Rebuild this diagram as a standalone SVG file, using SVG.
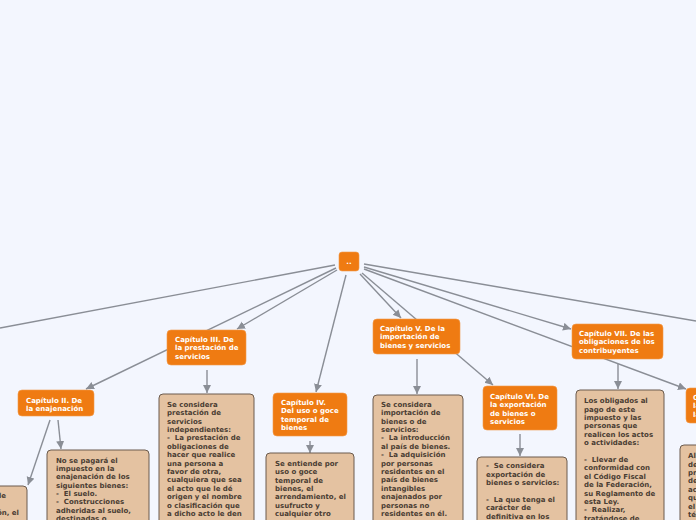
<svg xmlns="http://www.w3.org/2000/svg" width="696" height="520" viewBox="0 0 696 520">
<defs>
<style>
.bg{fill:#f3f6fe}
.on{fill:#ef7b12;stroke:#f29a4c;stroke-width:0.6}
.ot{fill:#ffffff;font-family:"DejaVu Sans",Verdana,sans-serif;font-weight:bold;font-size:7px}
.tb{fill:#e4c2a1;stroke:#6b5b4e;stroke-width:1}
.tt{fill:#4a3d33;font-family:"DejaVu Sans",Verdana,sans-serif;font-weight:bold;font-size:7px}
.c{fill:none;stroke:#8a8e96;stroke-width:1.4}
.ca{fill:none;stroke:#8a8e96;stroke-width:1.4;marker-end:url(#ah)}
</style>
<marker id="ah" markerUnits="userSpaceOnUse" markerWidth="10" markerHeight="10" refX="8" refY="4" orient="auto">
<path d="M0,0 L8,4 L0,8 z" fill="#8a8e96"/>
</marker>
</defs>
<rect class="bg" x="0" y="0" width="696" height="520"/>

<g id="connectors">
<line class="c" x1="335" y1="265" x2="0" y2="328"/>
<line class="ca" x1="336" y1="268" x2="86" y2="389"/>
<line class="ca" x1="337" y1="270" x2="237" y2="329"/>
<line class="ca" x1="346" y1="275" x2="316" y2="392"/>
<line class="ca" x1="360" y1="274" x2="401" y2="318"/>
<line class="ca" x1="362" y1="273" x2="493" y2="385"/>
<line class="ca" x1="364" y1="267" x2="571" y2="329"/>
<line class="ca" x1="364" y1="269" x2="686" y2="389"/>
<line class="c" x1="364" y1="264" x2="696" y2="321"/>
<line class="ca" x1="50" y1="420" x2="28" y2="485"/>
<line class="ca" x1="58" y1="420" x2="61" y2="449"/>
<line class="ca" x1="207" y1="370" x2="207" y2="393"/>
<line class="ca" x1="310" y1="441" x2="310" y2="453"/>
<line class="ca" x1="417" y1="359" x2="417" y2="394"/>
<line class="ca" x1="520" y1="434" x2="520" y2="456"/>
<line class="ca" x1="618" y1="364" x2="618" y2="389"/>
</g>

<g id="root">
<rect class="on" x="339" y="252" width="20" height="19" rx="3"/>
<text class="ot" x="349" y="264" text-anchor="middle">..</text>
</g>

<g id="cap2">
<rect class="on" x="18" y="390" width="76" height="26" rx="4"/>
<text class="ot"><tspan x="26" y="402.5">Capítulo II. De</tspan><tspan x="26" y="411">la enajenación</tspan></text>
</g>

<g id="cap3">
<rect class="on" x="167" y="330" width="79" height="35" rx="4"/>
<text class="ot"><tspan x="175" y="341.5">Capítulo III. De</tspan><tspan x="175" y="350">la prestación de</tspan><tspan x="175" y="358.5">servicios</tspan></text>
</g>

<g id="cap4">
<rect class="on" x="273" y="393" width="74" height="43" rx="4"/>
<text class="ot"><tspan x="281" y="404.5">Capítulo IV.</tspan><tspan x="281" y="413">Del uso o goce</tspan><tspan x="281" y="421.5">temporal de</tspan><tspan x="281" y="430">bienes</tspan></text>
</g>

<g id="cap5">
<rect class="on" x="373" y="319" width="87" height="35" rx="4"/>
<text class="ot"><tspan x="380" y="330.5">Capítulo V. De la</tspan><tspan x="380" y="339">importación de</tspan><tspan x="380" y="347.5">bienes y servicios</tspan></text>
</g>

<g id="cap6">
<rect class="on" x="483" y="386" width="74" height="44" rx="4"/>
<text class="ot"><tspan x="490" y="398.5">Capítulo VI. De</tspan><tspan x="490" y="407">la exportación</tspan><tspan x="490" y="415.5">de bienes o</tspan><tspan x="490" y="424">servicios</tspan></text>
</g>

<g id="cap7">
<rect class="on" x="572" y="324" width="91" height="35" rx="4"/>
<text class="ot"><tspan x="579" y="335.5">Capítulo VII. De las</tspan><tspan x="579" y="344">obligaciones de los</tspan><tspan x="579" y="352.5">contribuyentes</tspan></text>
</g>

<g id="cap8">
<rect class="on" x="686" y="388" width="80" height="35" rx="4"/>
<text class="ot"><tspan x="693" y="399.5">Capítulo VIII. De</tspan><tspan x="693" y="408">las facultades de</tspan><tspan x="693" y="416.5">las autoridades</tspan></text>
</g>

<g id="txt-left">
<rect class="tb" x="-70" y="486" width="97" height="60" rx="4"/>
<text class="tt" text-anchor="end"><tspan x="6" y="497.5">bienes de</tspan><tspan x="-4" y="506">por</tspan><tspan x="19" y="514.5">enajenación, el</tspan></text>
</g>

<g id="txt-cap2">
<rect class="tb" x="47" y="450" width="102" height="90" rx="4"/>
<text class="tt"><tspan x="56" y="462.5">No se pagará el</tspan><tspan x="56" y="470.9">impuesto en la</tspan><tspan x="56" y="479.2">enajenación de los</tspan><tspan x="56" y="487.6">siguientes bienes:</tspan><tspan x="56" y="495.9">-&#160; El suelo.</tspan><tspan x="56" y="504.3">-&#160; Construcciones</tspan><tspan x="56" y="512.6">adheridas al suelo,</tspan><tspan x="56" y="521">destinadas o</tspan></text>
</g>

<g id="txt-cap3">
<rect class="tb" x="159" y="394" width="95" height="150" rx="4"/>
<text class="tt"><tspan x="167" y="406.8">Se considera</tspan><tspan x="167" y="415.2">prestación de</tspan><tspan x="167" y="423.6">servicios</tspan><tspan x="167" y="432">independientes:</tspan><tspan x="167" y="440.4">-&#160; La prestación de</tspan><tspan x="167" y="448.8">obligaciones de</tspan><tspan x="167" y="457.2">hacer que realice</tspan><tspan x="167" y="465.6">una persona a</tspan><tspan x="167" y="474">favor de otra,</tspan><tspan x="167" y="482.4">cualquiera que sea</tspan><tspan x="167" y="490.8">el acto que le dé</tspan><tspan x="167" y="499.2">origen y el nombre</tspan><tspan x="167" y="507.6">o clasificación que</tspan><tspan x="167" y="516">a dicho acto le den</tspan></text>
</g>

<g id="txt-cap4">
<rect class="tb" x="266" y="453" width="88" height="90" rx="4"/>
<text class="tt"><tspan x="275" y="465.8">Se entiende por</tspan><tspan x="275" y="474.2">uso o goce</tspan><tspan x="275" y="482.6">temporal de</tspan><tspan x="275" y="491">bienes, el</tspan><tspan x="275" y="499.4">arrendamiento, el</tspan><tspan x="275" y="507.8">usufructo y</tspan><tspan x="275" y="516.2">cualquier otro</tspan></text>
</g>

<g id="txt-cap5">
<rect class="tb" x="373" y="395" width="90" height="150" rx="4"/>
<text class="tt"><tspan x="381" y="406.8">Se considera</tspan><tspan x="381" y="415.2">importación de</tspan><tspan x="381" y="423.6">bienes o de</tspan><tspan x="381" y="432">servicios:</tspan><tspan x="381" y="440.4">-&#160; La introducción</tspan><tspan x="381" y="448.8">al país de bienes.</tspan><tspan x="381" y="457.2">-&#160; La adquisición</tspan><tspan x="381" y="465.6">por personas</tspan><tspan x="381" y="474">residentes en el</tspan><tspan x="381" y="482.4">país de bienes</tspan><tspan x="381" y="490.8">intangibles</tspan><tspan x="381" y="499.2">enajenados por</tspan><tspan x="381" y="507.6">personas no</tspan><tspan x="381" y="516">residentes en él.</tspan></text>
</g>

<g id="txt-cap6">
<rect class="tb" x="477" y="457" width="90" height="90" rx="4"/>
<text class="tt"><tspan x="486" y="468.2">-&#160; Se considera</tspan><tspan x="486" y="476.6">exportación de</tspan><tspan x="486" y="485">bienes o servicios:</tspan><tspan x="486" y="501.8">-&#160; La que tenga el</tspan><tspan x="486" y="510.2">carácter de</tspan><tspan x="486" y="518.6">definitiva en los</tspan></text>
</g>

<g id="txt-cap7">
<rect class="tb" x="576" y="390" width="88" height="150" rx="4"/>
<text class="tt"><tspan x="584" y="403.2">Los obligados al</tspan><tspan x="584" y="411.6">pago de este</tspan><tspan x="584" y="420">impuesto y las</tspan><tspan x="584" y="428.4">personas que</tspan><tspan x="584" y="436.8">realicen los actos</tspan><tspan x="584" y="445.2">o actividades:</tspan><tspan x="584" y="462">-&#160; Llevar de</tspan><tspan x="584" y="470.4">conformidad con</tspan><tspan x="584" y="478.8">el Código Fiscal</tspan><tspan x="584" y="487.2">de la Federación,</tspan><tspan x="584" y="495.6">su Reglamento de</tspan><tspan x="584" y="504">esta Ley.</tspan><tspan x="584" y="512.4">-&#160; Realizar,</tspan><tspan x="584" y="520.8">tratándose de</tspan></text>
</g>

<g id="txt-cap8">
<rect class="tb" x="680" y="445" width="90" height="100" rx="4"/>
<text class="tt"><tspan x="688" y="458.2">Al efectuarse la</tspan><tspan x="688" y="466.6">determinación</tspan><tspan x="688" y="475">presuntiva del valor</tspan><tspan x="688" y="483.4">de los actos o</tspan><tspan x="688" y="491.8">actividades por los</tspan><tspan x="688" y="500.2">que se deba pagar</tspan><tspan x="688" y="508.6">el impuesto, las</tspan><tspan x="688" y="517">técnicas</tspan></text>
</g>
</svg>
